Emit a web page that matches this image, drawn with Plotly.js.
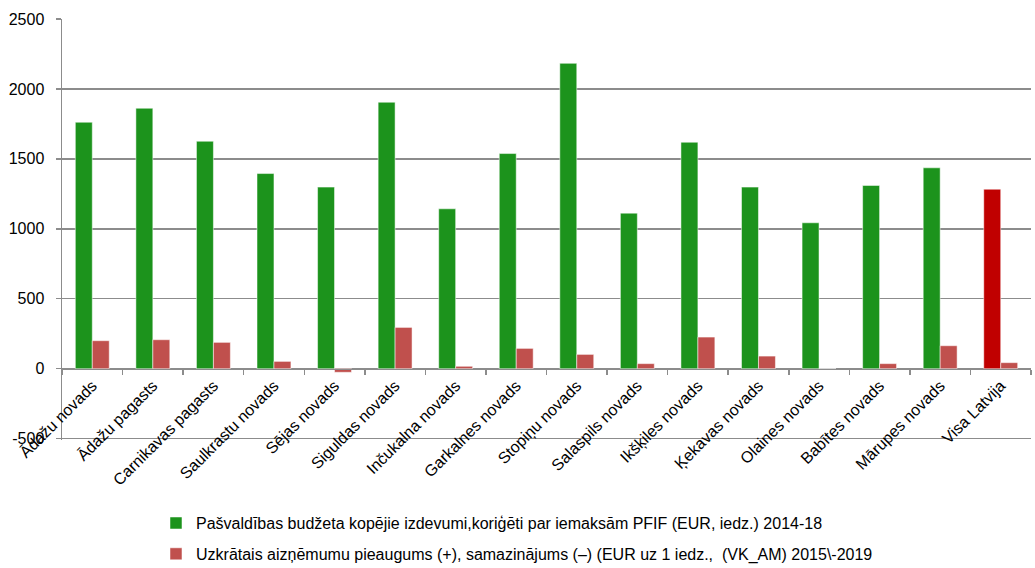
<!DOCTYPE html>
<html><head><meta charset="utf-8">
<script src="https://cdn.plot.ly/plotly-3.0.1.min.js"></script>
<style>html,body{margin:0;padding:0;overflow:hidden;background:#fff}</style>
</head><body><div id="chart" style="width:1035px;height:568px"></div>
<script>
const categories = ["Ādažu novads","Ādažu pagasts","Carnikavas pagasts","Saulkrastu novads","Sējas novads","Siguldas novads","Inčukalna novads","Garkalnes novads","Stopiņu novads","Salaspils novads","Ikšķiles novads","Ķekavas novads","Olaines novads","Babītes novads","Mārupes novads","Visa Latvija"];
const spending = [1762,1862,1626,1395,1298,1905,1143,1538,2183,1112,1619,1298,1043,1310,1436,1283];
const borrowing = [200,207,188,52,-26,295,17,145,102,36,226,90,0,36,164,43];
const seriesNames = ["Pašvaldības budžeta kopējie izdevumi,koriģēti par iemaksām PFIF (EUR, iedz.) 2014-18",
  "Uzkrātais aizņēmumu pieaugums (+), samazinājums (–) (EUR uz 1 iedz.,  (VK_AM) 2015\\-2019"];
const yTicks = [-500,0,500,1000,1500,2000,2500];

const greenColors = categories.map(c => c === "Visa Latvija" ? "#c00000" : "#1c931c");
const font = {family: "Liberation Sans, Arial, sans-serif", size: 15, color: "#000"};

const traces = [
  {type:"bar", x:categories, y:spending, name:seriesNames[0], legendgroup:"a",
   marker:{color:greenColors, line:{color:"rgba(255,255,255,0.5)", width:1}}},
  {type:"bar", x:categories, y:borrowing, name:seriesNames[1], legendgroup:"b",
   marker:{color:"#c0504d", line:{color:"rgba(255,255,255,0.5)", width:1}}}
];
const layout = {
  width:1035, height:568,
  margin:{l:62, r:4, t:19, b:127.6, autoexpand:false},
  paper_bgcolor:"#fff", plot_bgcolor:"#fff",
  font: font,
  barmode:"group", bargap:0.44, bargroupgap:0,
  showlegend:true,
  legend:{x:0.097, xanchor:"left", y:-0.157, yanchor:"top", orientation:"v",
          tracegroupgap:7, font:{family:font.family, size:16, color:"#000"}, bgcolor:"rgba(0,0,0,0)"},
  xaxis:{type:"category", anchor:"free", position:71.4/421.4, showline:true, linecolor:"#8c8c8c", linewidth:1.5,
         ticks:"outside", tickson:"boundaries", ticklen:5, tickcolor:"#8c8c8c", tickwidth:1.5,
         tickangle:-45, showgrid:false, automargin:false, tickfont:{family:font.family, size:16, color:"#000"}},
  yaxis:{range:[-510,2500], tickvals:yTicks, ticktext:yTicks.map(String), showline:true, linecolor:"#8c8c8c", linewidth:1.5,
         ticks:"outside", ticklen:5, tickcolor:"#8c8c8c", tickwidth:1.5, ticklabelstandoff:8,
         showgrid:true, gridcolor:"#8c8c8c", gridwidth:1.5, zeroline:false, automargin:false,
         tickfont:{family:font.family, size:16, color:"#000"}}
};
Plotly.newPlot("chart", traces, layout, {displayModeBar:false, staticPlot:true});
</script></body></html>
